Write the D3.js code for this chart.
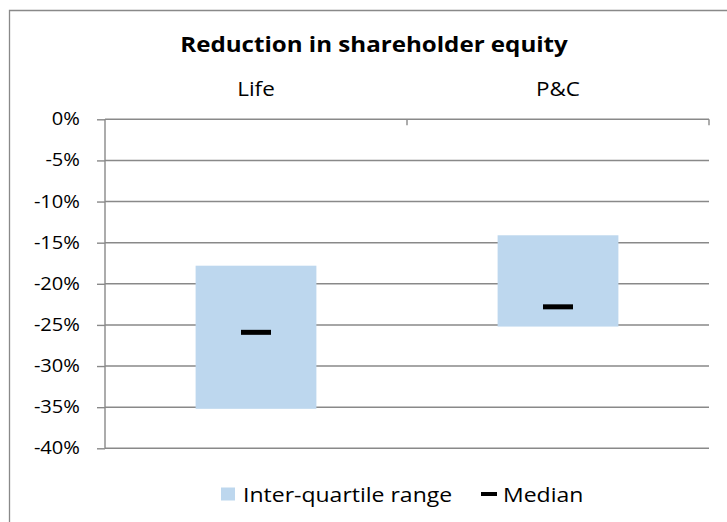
<!DOCTYPE html>
<html>
<head>
<meta charset="utf-8">
<script src="https://cdn.jsdelivr.net/npm/d3@7"></script>
<style>
  body { margin: 0; background: #fff; }
  svg text { font-family: "Open Sans", sans-serif; fill: #000; }
</style>
</head>
<body>
<svg id="chart" width="727" height="522"></svg>
<script>
const categories = ["Life", "P&C"];
const upperQuartile = [-0.178, -0.141];
const lowerQuartile = [-0.352, -0.252];
const medians = [-0.259, -0.228];
const yTicks = [0, -0.05, -0.1, -0.15, -0.2, -0.25, -0.3, -0.35, -0.4];
const legendLabels = ["Inter-quartile range", "Median"];

const rows = categories.map((c, i) => ({
    cat: c, hi: upperQuartile[i], lo: lowerQuartile[i], med: medians[i]
}));

const svg = d3.select("#chart");
const grey = "#898989";
const stretch = 1.15; // reference text is drawn a bit wide

// excel-style percent with a plain hyphen for negatives
const pct = d3.formatLocale({
    decimal: ".", thousands: ",", grouping: [3], currency: ["$", ""], minus: "-"
}).format(".0%");

// outer chart border (right & bottom edges are cut off in the picture)
svg.append("path")
    .attr("d", "M9.5,522 V10.5 H727")
    .attr("fill", "none")
    .attr("stroke", grey)
    .attr("stroke-width", 1.3);

const x = d3.scaleBand()
    .domain(categories)
    .range([105, 709])
    .paddingInner(0.6)
    .paddingOuter(0.3);

const y = d3.scaleLinear()
    .domain([-0.4, 0])
    .range([448.3, 119.3]);

function label(g, tx, ty, txt, size, anchor, weight) {
    return g.append("text")
        .attr("transform", `translate(${tx},${ty}) scale(${stretch},1)`)
        .attr("text-anchor", anchor)
        .attr("font-size", size)
        .attr("font-weight", weight || "normal")
        .text(txt);
}

// gridlines
svg.append("g")
    .selectAll("line")
    .data(yTicks.filter((d) => d !== 0))
    .join("line")
    .attr("x1", 105).attr("x2", 709)
    .attr("y1", (d) => y(d)).attr("y2", (d) => y(d))
    .attr("stroke", grey)
    .attr("stroke-width", 1.4);

// y axis
const yAxis = svg.append("g")
    .attr("transform", "translate(105,0)")
    .call(d3.axisLeft(y).tickValues(yTicks).tickSize(8).tickFormat(""));
yAxis.selectAll("path, line").attr("stroke", grey).attr("stroke-width", 1.4);
yAxis.select(".domain").attr("d", `M0,${y(0)}V${y(-0.4)}`);

const yLabels = svg.append("g");
yTicks.forEach((t) => label(yLabels, 80, y(t) + 6, pct(t), 17.5, "end"));

// top category axis at 0%, ticks pointing down at band edges
const edges = [x.range()[0], ...categories.slice(1).map((c) => x(c) - x.step() * x.paddingInner() / 2), x.range()[1]];
const catAxis = svg.append("g");
catAxis.append("line")
    .attr("x1", 105).attr("x2", 709)
    .attr("y1", y(0)).attr("y2", y(0))
    .attr("stroke", grey).attr("stroke-width", 1.4);
catAxis.selectAll("line.tick")
    .data(edges.slice(1))
    .join("line")
    .attr("class", "tick")
    .attr("x1", (d) => d).attr("x2", (d) => d)
    .attr("y1", y(0)).attr("y2", y(0) + 6)
    .attr("stroke", grey).attr("stroke-width", 1.4);

categories.forEach((c) => label(svg, x(c) + x.bandwidth() / 2, 96, c, 19.5, "middle"));

// inter-quartile bars
svg.append("g")
    .selectAll("rect")
    .data(rows)
    .join("rect")
    .attr("x", (d) => x(d.cat))
    .attr("width", x.bandwidth())
    .attr("y", (d) => y(d.hi))
    .attr("height", (d) => y(d.lo) - y(d.hi))
    .attr("fill", "#bdd7ee");

// median markers
svg.append("g")
    .selectAll("rect")
    .data(rows)
    .join("rect")
    .attr("x", (d) => x(d.cat) + x.bandwidth() / 2 - 15)
    .attr("width", 30)
    .attr("y", (d) => y(d.med) - 2.5)
    .attr("height", 5)
    .attr("fill", "#000");

// title
label(svg, 374, 52, "Reduction in shareholder equity", 21, "middle", "bold");

// legend
const legend = svg.append("g");
legend.append("rect")
    .attr("x", 221).attr("y", 487.5)
    .attr("width", 14).attr("height", 13)
    .attr("fill", "#bdd7ee");
label(legend, 243, 502, legendLabels[0], 20, "start");
legend.append("rect")
    .attr("x", 481).attr("y", 492)
    .attr("width", 16).attr("height", 4)
    .attr("fill", "#000");
label(legend, 503, 502, legendLabels[1], 20, "start");
</script>
</body>
</html>
